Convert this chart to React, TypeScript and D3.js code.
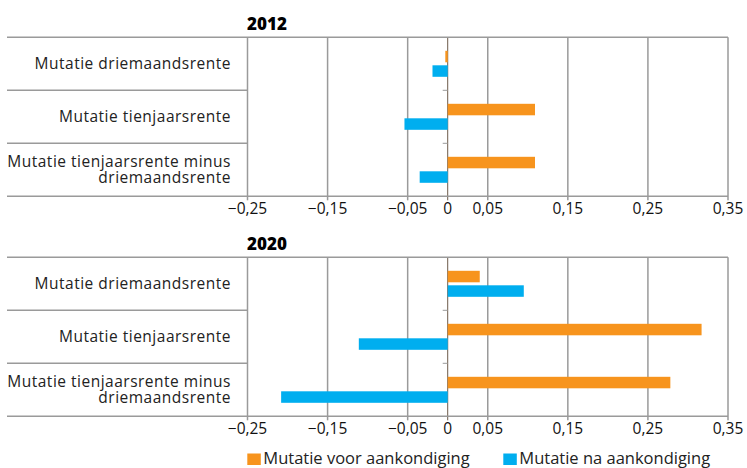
import React from 'react';
import * as d3 from 'd3';

const categories = [
  ['Mutatie driemaandsrente'],
  ['Mutatie tienjaarsrente'],
  ['Mutatie tienjaarsrente minus', 'driemaandsrente'],
];
const panels = ['2012', '2020'];
const seriesNames = ['Mutatie voor aankondiging', 'Mutatie na aankondiging'];
const voor2012 = [-0.003, 0.109, 0.109];
const na2012 = [-0.019, -0.054, -0.035];
const voor2020 = [0.04, 0.317, 0.278];
const na2020 = [0.095, -0.111, -0.208];
const tickValues = [-0.25, -0.15, -0.05, 0, 0.05, 0.15, 0.25, 0.35];

const colors = ['#f7941d', '#00aeef'];
const font = '"Open Sans", Lato, sans-serif';

const width = 747;
const height = 468;

const x = d3.scaleLinear().domain([-0.25, 0.35]).range([247.5, 728]);
const fmt = (v: number) => (v < 0 ? '\u2212' : '') + (v === 0 ? '0' : d3.format('.2f')(Math.abs(v)).replace('.', ','));

const Panel = ({ title, top, voor, na }: { title: string; top: number; voor: number[]; na: number[] }) => {
  const bottom = top + 159;
  const y = d3.scaleBand<number>().domain([0, 1, 2]).range([top, bottom]);
  const barH = 11.5;
  const gap = 3;
  return (
    <g>
      <text x={247} y={top - 7} fontFamily={font} fontWeight={800} fontSize={17} fill="#000">{title}</text>
      {tickValues.map(t => (
        <line key={t} x1={x(t)} x2={x(t)} y1={top} y2={bottom + 4}
          stroke={t === 0 ? '#6b5a4a' : '#9a9a9a'} strokeWidth={t === 0 ? 1 : 1.5} />
      ))}
      <line x1={7} x2={728} y1={top} y2={top} stroke="#9a9a9a" strokeWidth={1.5} />
      <line x1={7} x2={728} y1={bottom} y2={bottom} stroke="#9a9a9a" strokeWidth={1.5} />
      {[1, 2].map(i => (
        <g key={i}>
          <line x1={7} x2={247} y1={y(i)} y2={y(i)} stroke="#9a9a9a" strokeWidth={1.5} />
          <line x1={x(0) - 5} x2={x(0)} y1={y(i)} y2={y(i)} stroke="#9a9a9a" strokeWidth={1} />
        </g>
      ))}
      {categories.map((c, i) => {
        const cy = (y(i) as number) + y.bandwidth() / 2;
        return c.map((l, j) => (
          <text key={i + '-' + j} x={231} y={cy + 5 - (c.length - 1) * 8 + j * 16} textAnchor="end"
            fontFamily={font} fontSize={15.5} letterSpacing={0.5} fill="#222">{l}</text>
        ));
      })}
      {[voor, na].map((vals, s) => vals.map((v, i) => {
        const cy = (y(i) as number) + y.bandwidth() / 2;
        const by = s === 0 ? cy - gap / 2 - barH : cy + gap / 2;
        return (
          <rect key={s + '-' + i} x={Math.min(x(0), x(v))} width={Math.abs(x(v) - x(0))} y={by} height={barH} fill={colors[s]} />
        );
      }))}
      {tickValues.map(t => (
        <text key={t} x={x(t)} y={bottom + 17.5} textAnchor="middle" fontFamily={font} fontSize={15.5} fill="#111">{fmt(t)}</text>
      ))}
    </g>
  );
};

export default function App() {
  return (
    <svg width={width} height={height} style={{ position: 'absolute', left: 0, top: 0, background: '#fff' }}>
      <Panel title={panels[0]} top={37.3} voor={voor2012} na={na2012} />
      <Panel title={panels[1]} top={257.3} voor={voor2020} na={na2020} />
      {seriesNames.map((n, i) => {
        const lx = i === 0 ? 247.3 : 503.3;
        return (
          <g key={n}>
            <rect x={lx} y={453.5} width={13.5} height={11.5} fill={colors[i]} />
            <text x={lx + 16} y={463.5} fontFamily={font} fontSize={16.5} fill="#222">{n}</text>
          </g>
        );
      })}
    </svg>
  );
}
